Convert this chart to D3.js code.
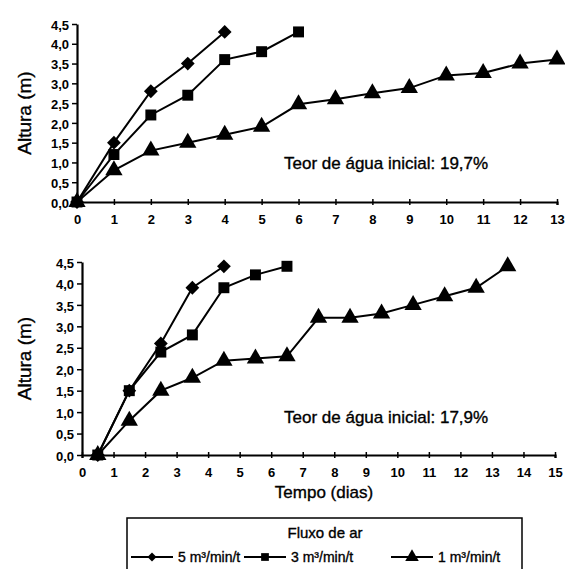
<!DOCTYPE html>
<html>
<head>
<meta charset="utf-8">
<script src="https://cdn.jsdelivr.net/npm/d3@7"></script>
<style>
  body { margin: 0; background: #fff; }
  text { font-family: "Liberation Sans", Arial, sans-serif; fill: #000; }
  .tick text { font-weight: bold; font-size: 13px; }
  .lbl { stroke: #000; stroke-width: 0.35; }
</style>
</head>
<body>
<script>
// top panel (teor de agua 19,7%)
var topDias = [0, 1, 2, 3, 4, 5, 6, 7, 8, 9, 10, 11, 12, 13];
var top5 = [0, 1.5, 2.8, 3.5, 4.3];
var top3 = [0, 1.2, 2.2, 2.7, 3.6, 3.8, 4.3];
var top1 = [0, 0.8, 1.3, 1.5, 1.7, 1.9, 2.47, 2.6, 2.75, 2.88, 3.2, 3.26, 3.5, 3.6];

// bottom panel (teor de agua 17,9%)
var botDias = [0.5, 1.5, 2.5, 3.5, 4.5, 5.5, 6.5, 7.5, 8.5, 9.5, 10.5, 11.5, 12.5, 13.5];
var bot5 = [0, 1.5, 2.6, 3.9, 4.4];
var bot3 = [0, 1.5, 2.4, 2.8, 3.9, 4.2, 4.4];
var bot1 = [0, 0.8, 1.5, 1.8, 2.2, 2.25, 2.3, 3.2, 3.2, 3.3, 3.5, 3.7, 3.9, 4.4];

var yTicks = [0, 0.5, 1, 1.5, 2, 2.5, 3, 3.5, 4, 4.5];
var legendLabels = ["5 m³/min/t", "3 m³/min/t", "1 m³/min/t"];
var markers = [d3.symbolSquare, d3.symbolSquare, d3.symbolTriangle];
var rot = [45, 0, 0];

var svg = d3.select("body").append("svg")
  .attr("width", 565)
  .attr("height", 569);

var fmt = function(d) { return d3.format(".1f")(d).replace(".", ","); };

function drawPanel(p) {
  var x = d3.scaleLinear().domain([0, p.xMax]).range([p.left, p.right]);
  var y = d3.scaleLinear().domain([0, 4.5]).range([p.bottom, p.top]);

  var g = svg.append("g");

  // x axis
  var xa = g.append("g")
    .attr("transform", "translate(0," + p.bottom + ")")
    .call(d3.axisBottom(x).tickValues(d3.range(0, p.xMax + 1)).tickFormat(d3.format("d")).tickSize(3).tickPadding(10));
  xa.select(".domain").attr("stroke-width", 2.2);
  xa.selectAll(".tick line").attr("y1", -3).attr("stroke-width", 1.5);

  // y axis
  var ya = g.append("g")
    .attr("transform", "translate(" + p.left + ",0)")
    .call(d3.axisLeft(y).tickValues(yTicks).tickFormat(fmt).tickSize(5).tickPadding(3).tickSizeOuter(0));
  ya.select(".domain").attr("stroke-width", 2.2);
  ya.selectAll(".tick line").attr("stroke-width", 1.5);
  ya.selectAll(".tick text").attr("dy", "0.4em");

  // series
  p.series.forEach(function(vals, i) {
    var pts = vals.map(function(v, j) { return [p.dias[j], v]; });
    var line = d3.line().x(function(d) { return x(d[0]); }).y(function(d) { return y(d[1]); });
    g.append("path")
      .datum(pts)
      .attr("d", line)
      .attr("fill", "none")
      .attr("stroke", "#000")
      .attr("stroke-width", 2);
    var sizes = [95, 120, 130];
    g.selectAll(".m" + i)
      .data(pts)
      .enter()
      .append("path")
      .attr("transform", function(d) { return "translate(" + x(d[0]) + "," + y(d[1]) + ") rotate(" + rot[i] + ")"; })
      .attr("d", d3.symbol().type(markers[i]).size(sizes[i]))
      .attr("fill", "#000");
  });

  g.append("text")
    .attr("class", "lbl")
    .attr("x", p.noteX)
    .attr("y", p.noteY)
    .attr("font-size", 17)
    .text(p.note);

  g.append("text")
    .attr("class", "lbl")
    .attr("transform", "translate(" + p.labelX + "," + ((p.top + p.bottom) / 2) + ") rotate(-90)")
    .attr("text-anchor", "middle")
    .attr("font-size", 19)
    .text("Altura (m)");
}

drawPanel({
  left: 77, right: 557, top: 24, bottom: 202, xMax: 13,
  dias: topDias, series: [top5, top3, top1],
  note: "Teor de água inicial: 19,7%", noteX: 284, noteY: 169, labelX: 31
});

drawPanel({
  left: 82, right: 555, top: 262, bottom: 455, xMax: 15,
  dias: botDias, series: [bot5, bot3, bot1],
  note: "Teor de água inicial: 17,9%", noteX: 284, noteY: 423, labelX: 31
});

svg.append("text")
  .attr("class", "lbl")
  .attr("x", 324)
  .attr("y", 498)
  .attr("text-anchor", "middle")
  .attr("font-size", 17)
  .text("Tempo (dias)");

// legenda
var leg = svg.append("g");
leg.append("rect")
  .attr("x", 127).attr("y", 518)
  .attr("width", 395).attr("height", 60)
  .attr("fill", "none")
  .attr("stroke", "#000")
  .attr("stroke-width", 1.5);
leg.append("text")
  .attr("class", "lbl")
  .attr("x", 325).attr("y", 538)
  .attr("text-anchor", "middle")
  .attr("font-size", 15)
  .text("Fluxo de ar");

var legX = [131, 244, 391];
var legItem = leg.selectAll(".li")
  .data(legendLabels)
  .enter()
  .append("g")
  .attr("transform", function(d, i) { return "translate(" + legX[i] + ",557)"; });
legItem.append("line")
  .attr("x1", 0).attr("x2", 42)
  .attr("stroke", "#000").attr("stroke-width", 2);
legItem.append("path")
  .attr("transform", function(d, i) { return "translate(21,0) rotate(" + rot[i] + ")"; })
  .attr("d", function(d, i) { return d3.symbol().type(markers[i]).size([40, 60, 80][i])(); })
  .attr("fill", "#000");
legItem.append("text")
  .attr("class", "lbl")
  .attr("x", 47).attr("y", 5)
  .attr("font-size", 14)
  .text(function(d) { return d; });
</script>
</body>
</html>
